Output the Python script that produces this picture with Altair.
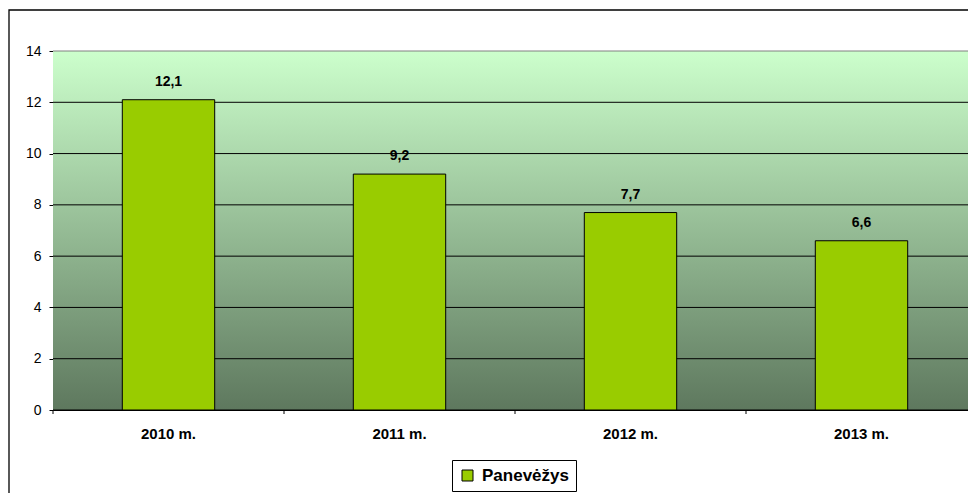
import altair as alt
import pandas as pd

years = ["2010 m.", "2011 m.", "2012 m.", "2013 m."]
values = [12.1, 9.2, 7.7, 6.6]
series = ["Panevėžys"] * 4
y_ticks = [0, 2, 4, 6, 8, 10, 12, 14]

df = pd.DataFrame({"year": years, "value": values, "series": series})
grid_df = pd.DataFrame({"value": y_ticks})
one_df = pd.DataFrame({"k": [0]})

FONT = "Liberation Sans"
W, H = 924, 359

xenc = alt.X("year:N", sort=years,
             scale=alt.Scale(paddingInner=0, paddingOuter=0),
             axis=alt.Axis(title=None, ticks=False, labelFont=FONT, labelFontSize=15,
                           labelFontWeight="bold", labelColor="black", labelPadding=16,
                           domainColor="black", domainWidth=1, labelAngle=0))
yscale = alt.Scale(domain=[0, 14], nice=False)
yenc = alt.Y("value:Q", scale=yscale,
             axis=alt.Axis(title=None, values=y_ticks, labelFont=FONT, labelFontSize=14,
                           labelColor="black", tickColor="black", tickSize=4,
                           labelPadding=8, domainColor="black", grid=False))

background = alt.Chart(one_df).mark_rect(
    color=alt.LinearGradient(gradient="linear", x1=0, x2=0, y1=0, y2=1,
                             stops=[alt.GradientStop(color="#CCFFCC", offset=0),
                                    alt.GradientStop(color="#5E785E", offset=1)])
).encode(x=alt.value(0), x2=alt.value(W), y=alt.value(0), y2=alt.value(H))

grid = alt.Chart(grid_df).mark_rule(strokeWidth=1).encode(
    y=alt.Y("value:Q", scale=yscale),
    color=alt.condition("datum.value == 14", alt.value("#808080"), alt.value("black")))

bars = alt.Chart(df).mark_bar(width=alt.RelativeBandSize(0.4), stroke="black", strokeWidth=1).encode(
    x=xenc, y=yenc,
    color=alt.Color("series:N", scale=alt.Scale(range=["#99CC00"]),
                    legend=alt.Legend(title=None, orient="none", legendX=399, legendY=409,
                                      strokeColor="black", fillColor="white", padding=7,
                                      labelFont=FONT, labelFontSize=17, labelFontWeight="bold",
                                      labelColor="black", symbolType="square", symbolSize=121,
                                      symbolStrokeColor="black", symbolStrokeWidth=1,
                                      symbolOpacity=1, labelOffset=6)))

text = alt.Chart(df).transform_calculate(
    label="replace(format(datum.value, '.1f'), '.', ',')"
).mark_text(font=FONT, fontSize=14, fontWeight="bold", color="black",
            baseline="alphabetic", dy=-14).encode(
    x=alt.X("year:N", sort=years), y="value:Q", text="label:N")

ticks = alt.Chart(df).mark_rule(color="black", strokeWidth=1).encode(
    x=alt.X("year:N", sort=years, bandPosition=0),
    y=alt.value(H), y2=alt.value(H + 4))

frame = alt.Chart(one_df).mark_rect(fill=None, stroke="black", strokeWidth=1.3).encode(
    x=alt.value(-44), x2=alt.value(W + 60), y=alt.value(-41), y2=alt.value(H + 120))

chart = alt.layer(background, grid, bars, text, ticks, frame).properties(
    width=W, height=H, autosize="none",
    padding={"left": 45, "top": 43, "right": -9, "bottom": 83},
    background="white",
).configure_view(stroke=None)

chart.save("out.html", embed_options={"renderer": "svg", "actions": False})
